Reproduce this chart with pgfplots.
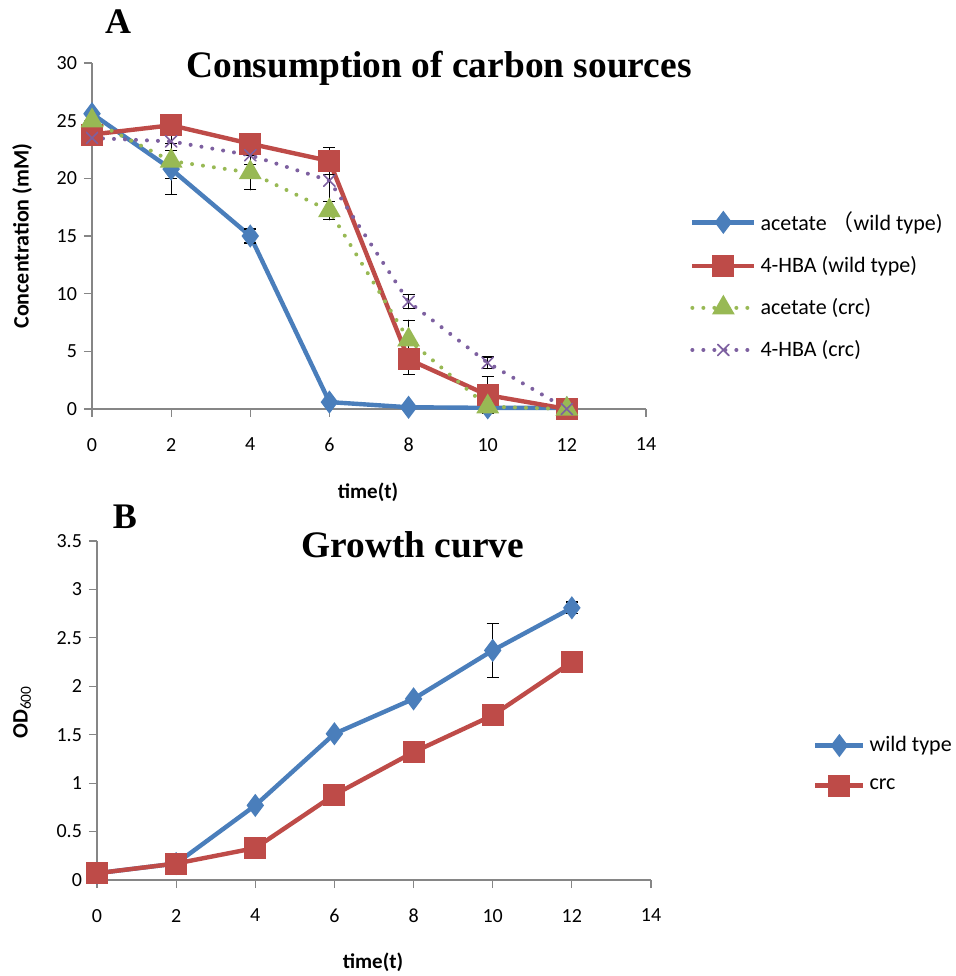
\documentclass[border=0pt]{standalone}
\usepackage{pgfplots}
\pgfplotsset{compat=1.18}
\usepackage{fontspec}
\setmainfont{Carlito}
\newfontfamily\timesfont{Liberation Serif}
\newfontfamily\cjk{Noto Sans CJK SC}
\definecolor{cblue}{HTML}{4A7EBB}
\definecolor{cred}{HTML}{BE4B48}
\definecolor{cgreen}{HTML}{98B954}
\definecolor{cpurple}{HTML}{7D60A0}
\definecolor{axgray}{HTML}{868686}
\pgfplotsset{
  mystyle/.style={
    scale only axis, clip=false,
    axis x line=bottom, axis y line=left,
    axis line style={-, axgray, line width=0.6pt},
    tick style={axgray, line width=0.6pt},
    major tick length=4pt, tick align=outside,
    xmin=0, xmax=14, xtick={0,2,...,14},
    /pgf/number format/assume math mode=true,
    /pgf/number format/fixed,
    ticklabel style={font=\fontsize{10}{12}\selectfont, text=black},
    xticklabel shift={7pt},
    legend cell align=left,
    error bars/y dir=both, error bars/y explicit,
    error bars/error bar style={black, solid, line width=0.6pt},
    error bars/error mark options={rotate=90, black, solid, mark size=3pt, line width=0.6pt},
  },
  sblue/.style={cblue, line width=2.2pt, mark=diamond*, mark size=4pt, mark options={solid, fill=cblue}},
  sred/.style={cred, line width=2.2pt, mark=square*, mark size=4.4pt, mark options={solid, fill=cred}},
  sgreen/.style={cgreen, line width=2pt, line cap=round, dash pattern=on 0pt off 5.5pt, mark=triangle*, mark size=4.6pt, mark options={solid, fill=cgreen}},
  spurple/.style={cpurple, line width=2pt, line cap=round, dash pattern=on 0pt off 5.5pt, mark=x, mark size=4pt, mark options={solid, line width=0.8pt}},
}
\begin{document}
\begin{tikzpicture}
\path[use as bounding box] (0,0) rectangle (477.5pt,488pt);
% Panel A
\begin{axis}[mystyle, at={(46pt,283.5pt)}, anchor=south west,
  width=277pt, height=173pt,
  ymin=0, ymax=30, ytick={0,5,...,30},
  legend style={at={(axis description cs:1.079,0.357)}, anchor=west, draw=none, fill=none,
    font=\fontsize{11}{13}\selectfont, row sep=7.5pt, inner sep=0pt},
  legend image code/.code={\draw[mark repeat=2,mark phase=2] plot coordinates {(0pt,0pt) (15.5pt,0pt) (31pt,0pt)};},
]
\addplot[sblue] coordinates {
 (0,25.6) +- (0,0.3)
 (2,20.8) +- (0,2.2)
 (4,15.0) +- (0,0.6)
 (6,0.6) +- (0,0.1)
 (8,0.15) +- (0,0)
 (10,0.1) +- (0,0)
 (12,0.1) +- (0,0)
};
\addlegendentry{acetate {\cjk （}wild type)}
\addplot[sred] coordinates {
 (0,23.8) +- (0,0.3)
 (2,24.6) +- (0,0.3)
 (4,23.0) +- (0,0.5)
 (6,21.5) +- (0,1.2)
 (8,4.3) +- (0,1.3)
 (10,1.2) +- (0,1.6)
 (12,0.0) +- (0,0)
};
\addlegendentry{4-HBA (wild type)}
\addplot[sgreen] coordinates {
 (0,25.0) +- (0,0.3)
 (2,21.5) +- (0,1.5)
 (4,20.5) +- (0,1.5)
 (6,17.2) +- (0,0.8)
 (8,6.0) +- (0,1.7)
 (10,0.2) +- (0,0)
 (12,0.0) +- (0,0)
};
\addlegendentry{acetate (crc)}
\addplot[spurple] coordinates {
 (0,23.5) +- (0,0.3)
 (2,23.2) +- (0,0.8)
 (4,22.0) +- (0,0.8)
 (6,19.8) +- (0,2.5)
 (8,9.3) +- (0,0.6)
 (10,4.0) +- (0,0.5)
 (12,0.0) +- (0,0)
};
\addlegendentry{4-HBA (crc)}
\end{axis}
% Panel B
\begin{axis}[mystyle, at={(48.5pt,48pt)}, anchor=south west,
  width=277pt, height=169.5pt,
  ymin=0, ymax=3.5, ytick={0,0.5,...,3.5},
  legend style={at={(axis description cs:1.292,0.341)}, anchor=west, draw=none, fill=none,
    font=\fontsize{11}{13}\selectfont, row sep=8pt, inner sep=0pt},
  legend image code/.code={\draw[mark repeat=2,mark phase=2] plot coordinates {(0pt,0pt) (12pt,0pt) (24pt,0pt)};},
]
\addplot[sblue] coordinates {
 (0,0.07) +- (0,0.01)
 (2,0.17) +- (0,0.01)
 (4,0.77) +- (0,0.02)
 (6,1.51) +- (0,0.02)
 (8,1.87) +- (0,0.02)
 (10,2.37) +- (0,0.28)
 (12,2.81) +- (0,0.06)
};
\addlegendentry{wild type}
\addplot[sred] coordinates {
 (0,0.07) +- (0,0.01)
 (2,0.17) +- (0,0.02)
 (4,0.33) +- (0,0.01)
 (6,0.88) +- (0,0.08)
 (8,1.32) +- (0,0.1)
 (10,1.70) +- (0,0.01)
 (12,2.25) +- (0,0.01)
};
\addlegendentry{crc}
\end{axis}
% Titles and labels
\node[font=\timesfont\bfseries\fontsize{18}{20}\selectfont] at (59pt,477pt) {A};
\node[font=\timesfont\bfseries\fontsize{18.7}{22}\selectfont] at (219.5pt,454pt) {Consumption of carbon sources};
\node[font=\timesfont\bfseries\fontsize{18}{20}\selectfont] at (62.5pt,229.5pt) {B};
\node[font=\timesfont\bfseries\fontsize{18.7}{22}\selectfont] at (206.5pt,215.5pt) {Growth curve};
\node[font=\bfseries\fontsize{10.5}{12}\selectfont] at (184pt,242pt) {time(t)};
\node[font=\bfseries\fontsize{10.5}{12}\selectfont] at (186.5pt,7pt) {time(t)};
\node[font=\bfseries\fontsize{11}{12}\selectfont, rotate=90] at (11pt,370pt) {Concentration (mM)};
\node[font=\bfseries\fontsize{11}{12}\selectfont, rotate=90] at (11pt,132pt) {OD\textsubscript{\mdseries 600}};
\end{tikzpicture}
\end{document}
